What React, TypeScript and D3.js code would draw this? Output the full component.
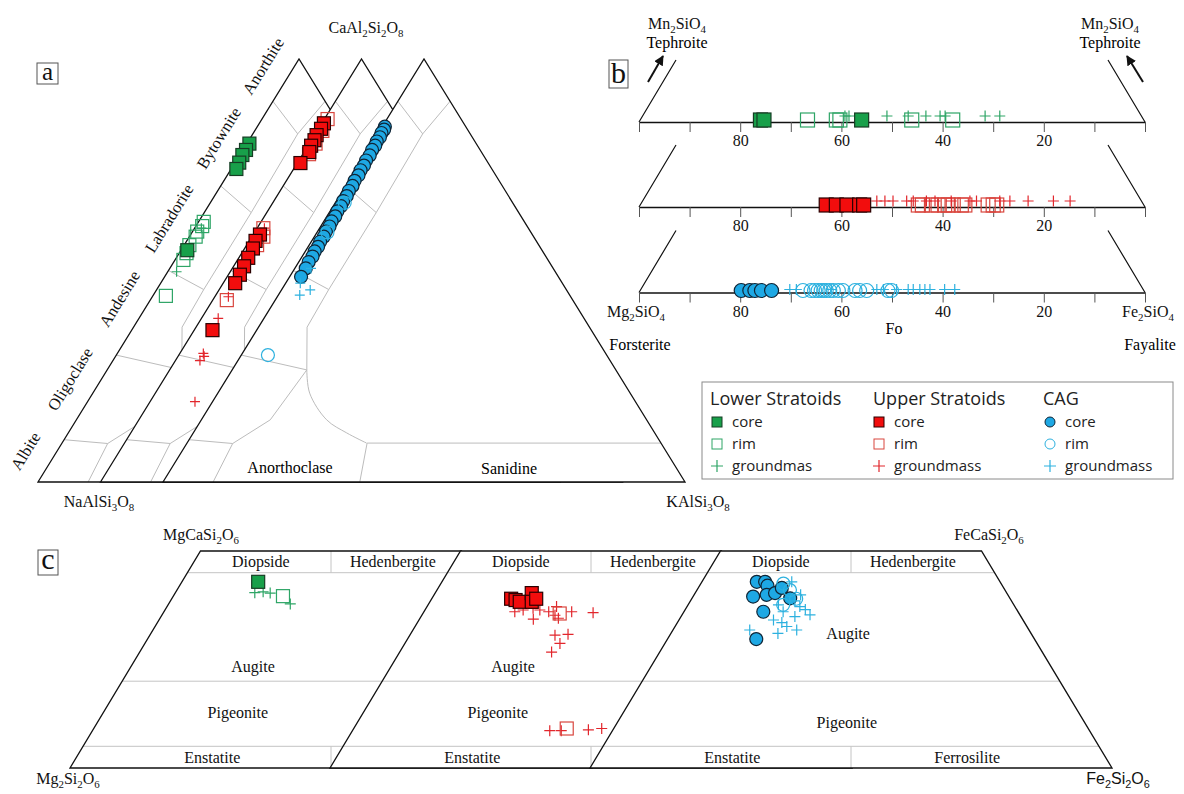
import React, { useEffect, useRef } from 'react'
import * as d3 from 'd3'

// ---------- panel a : feldspar, [An, Or] fractions ----------
const lowerCoreFsp = [[0.80, 0.005], [0.785, 0.006], [0.773, 0.005], [0.755, 0.008], [0.74, 0.01], [0.548, 0.012]]
const lowerRimFsp = [[0.615, 0.01], [0.605, 0.012], [0.592, 0.009], [0.58, 0.012], [0.56, 0.01], [0.541, 0.014], [0.525, 0.016], [0.44, 0.025]]
const lowerGmFsp = [[0.6, 0.013], [0.497, 0.017]]
const upperCoreFsp = [[0.848, 0.004], [0.835, 0.005], [0.82, 0.004], [0.808, 0.006], [0.795, 0.006], [0.78, 0.01], [0.754, 0.006],
  [0.585, 0.013], [0.57, 0.012], [0.552, 0.016], [0.53, 0.018], [0.51, 0.02], [0.49, 0.022], [0.47, 0.023], [0.359, 0.035]]
const upperRimFsp = [[0.858, 0.006], [0.83, 0.01], [0.80, 0.012], [0.775, 0.012], [0.6, 0.012], [0.58, 0.022], [0.56, 0.02], [0.43, 0.027]]
const upperGmFsp = [[0.6, 0.014], [0.438, 0.026], [0.387, 0.032], [0.304, 0.045], [0.297, 0.05], [0.287, 0.047], [0.19, 0.086]]
const cagCoreFsp = [[0.84, 0.005], [0.833, 0.007], [0.825, 0.006], [0.815, 0.008], [0.805, 0.007], [0.795, 0.009], [0.785, 0.008],
  [0.772, 0.01], [0.76, 0.009], [0.748, 0.011], [0.737, 0.01], [0.725, 0.012], [0.712, 0.011], [0.70, 0.013], [0.688, 0.012],
  [0.676, 0.014], [0.664, 0.013], [0.652, 0.015], [0.64, 0.014], [0.628, 0.016], [0.616, 0.015], [0.604, 0.017], [0.592, 0.016],
  [0.58, 0.018], [0.568, 0.017], [0.556, 0.019], [0.545, 0.018], [0.533, 0.02], [0.52, 0.019], [0.505, 0.021], [0.485, 0.022]]
const cagRimFsp = [[0.66, 0.018], [0.59, 0.02], [0.3, 0.051]]
const cagGmFsp = [[0.505, 0.031], [0.47, 0.028], [0.454, 0.055], [0.442, 0.041]]

// feldspar field boundaries [An, Or]
const fspFields = [
  [[0.9, 0], [0.823, 0.086]],
  [[0.9, 0.1], [0.823, 0.086]],
  [[0.823, 0.086], [0.637, 0.09], [0.455, 0.09], [0.366, 0.093], [0.265, 0.143]],
  [[0.7, 0], [0.637, 0.09]],
  [[0.5, 0], [0.455, 0.09]],
  [[0.3, 0], [0.265, 0.143]],
  [[0.265, 0.143], [0.147, 0.132], [0.091, 0.088], [0, 0.096]],
  [[0.1, 0], [0.091, 0.088]],
  [[0.092, 0.345], [0.092, 0.908]],
  [[0.092, 0.345], [0, 0.377]],
]
const fspCurve = [[0.265, 0.143], [0.21, 0.176], [0.147, 0.24], [0.116, 0.294], [0.092, 0.344]]
const plagNames = ['Albite', 'Oligoclase', 'Andesine', 'Labradorite', 'Bytownite', 'Anorthite']
const plagAt = [0.04, 0.21, 0.40, 0.59, 0.78, 0.95]

// ---------- panel b : olivine Fo ----------
const lowerCoreOl = [76, 75.3, 56]
const lowerRimOl = [66.7, 61, 60.3, 46.1, 38]
const lowerGmOl = [59.3, 58.5, 51, 46.8, 43.3, 40.5, 39.5, 31.6, 28.7]
const upperCoreOl = [63, 61, 58.9, 56.4, 55.6]
const upperRimOl = [44.8, 44, 42.2, 40.9, 39.6, 38.9, 37.9, 36.3, 35.6, 31, 30, 29.3]
const upperGmOl = [53, 51.4, 49.8, 47.1, 45.8, 43.2, 41.5, 38.3, 34.6, 33.3, 28.7, 26.7, 23.1, 18.1, 14.8]
const cagCoreOl = [79.8, 78.1, 77.1, 75.8, 73.8]
const cagRimOl = [67.6, 66, 65.3, 64.6, 64, 63.5, 63, 62.3, 61.6, 60.6, 59.7, 57.3, 56.4, 55, 50.8, 50.1]
const cagGmOl = [70.2, 68.9, 62, 53, 51.7, 49.1, 46.8, 45.8, 44.5, 43.5, 42.5, 39.6, 37.6]
const foTicks = [100, 90, 80, 70, 60, 50, 40, 30, 20, 10, 0]
const foLabels = [80, 60, 40, 20]

// ---------- panel c : pyroxene, [Wo, Fs] fractions ----------
const lowerCorePx = [[0.429, 0.146]]
const lowerRimPx = [[0.396, 0.21]]
const lowerGmPx = [[0.404, 0.152], [0.406, 0.167], [0.403, 0.182], [0.378, 0.233]]
const upperCorePx = [[0.39, 0.152], [0.387, 0.162], [0.383, 0.172], [0.403, 0.185], [0.383, 0.195], [0.39, 0.2]]
const upperRimPx = [[0.356, 0.262], [0.091, 0.408]]
const upperGmPx = [[0.36, 0.174], [0.364, 0.188], [0.343, 0.218], [0.364, 0.22], [0.36, 0.239], [0.372, 0.248], [0.345, 0.265],
  [0.36, 0.283], [0.358, 0.325], [0.306, 0.278], [0.308, 0.302], [0.287, 0.297], [0.267, 0.291], [0.086, 0.378], [0.086, 0.4],
  [0.088, 0.451], [0.091, 0.475], [0.368, 0.205], [0.352, 0.255]]
const cagCorePx = [[0.429, 0.105], [0.429, 0.121], [0.42, 0.13], [0.395, 0.115], [0.399, 0.139], [0.403, 0.153], [0.391, 0.188],
  [0.36, 0.152], [0.297, 0.17], [0.415, 0.16]]
const cagRimPx = [[0.425, 0.158], [0.41, 0.178], [0.376, 0.182], [0.39, 0.2]]
const cagGmPx = [[0.429, 0.172], [0.399, 0.204], [0.376, 0.173], [0.36, 0.19], [0.372, 0.216], [0.353, 0.245], [0.349, 0.218],
  [0.341, 0.181], [0.326, 0.214], [0.318, 0.237], [0.31, 0.205], [0.318, 0.147], [0.385, 0.2], [0.365, 0.23], [0.335, 0.2]]

const pxFields = [
  [[0.45, 0], [0.45, 0.55]],
  [[0.2, 0], [0.2, 0.8]],
  [[0.05, 0], [0.05, 0.95]],
  [[0.5, 0.25], [0.45, 0.275]],
  [[0, 0.5], [0.05, 0.475]],
]
// label positions [Wo, Fs]; first two quads share one set
const pxLabelsSide = [['Diopside', 0.475, 0.128], ['Hedenbergite', 0.475, 0.381], ['Augite', 0.235, 0.233], ['Pigeonite', 0.129, 0.257], ['Enstatite', 0.025, 0.26]]
const pxLabelsMain = [['Diopside', 0.475, 0.128], ['Hedenbergite', 0.475, 0.381], ['Augite', 0.309, 0.34], ['Pigeonite', 0.104, 0.44], ['Enstatite', 0.025, 0.26], ['Ferrosilite', 0.025, 0.71]]

const groups = ['Lower Stratoids', 'Upper Stratoids', 'CAG']
const legendItems = [['core', 'rim', 'groundmas'], ['core', 'rim', 'groundmass'], ['core', 'rim', 'groundmass']]

const SERIF = '"Liberation Serif", "Times New Roman", serif'
const SANS = '"Open Sans", "Noto Sans", sans-serif'

const colors = {
  lower: { fill: '#18a04a', stroke: '#163d24', open: '#2ea566' },
  upper: { fill: '#f20d0d', stroke: '#2a0000', open: '#d9473f', plus: '#e2262c' },
  cag: { fill: '#1ea8e4', stroke: '#0f2536', open: '#2db1df' },
}

export default function App() {
  const ref = useRef<SVGSVGElement>(null)

  useEffect(() => {
    const svg = d3.select(ref.current)
    svg.selectAll('*').remove()

    // formula text with subscripts
    const formula = (g, str, x, y, size, family = SERIF) => {
      const t = g.append('text').attr('x', x).attr('y', y).attr('font-size', size)
        .attr('font-family', family).attr('text-anchor', 'middle').attr('fill', '#111')
      let low = false
      str.match(/\d+|\D+/g).forEach(part => {
        const ts = t.append('tspan').text(part)
        if (/^\d+$/.test(part)) {
          ts.attr('font-size', size * 0.68)
          if (!low) ts.attr('dy', size * 0.28)
          low = true
        } else if (low) {
          ts.attr('dy', -size * 0.28)
          low = false
        }
      })
    }

    const letterBox = (x, y, w, h, ch, size, base) => {
      svg.append('rect').attr('x', x).attr('y', y).attr('width', w).attr('height', h)
        .attr('fill', 'none').attr('stroke', '#555').attr('stroke-width', 1)
      svg.append('text').attr('x', x + w / 2).attr('y', base).attr('text-anchor', 'middle')
        .attr('font-family', SERIF).attr('font-size', size).attr('fill', '#111').text(ch)
    }

    // marker helpers
    const squares = (g, pts, xy, size, fill, stroke, sw = 1.2) => {
      g.selectAll(null).data(pts).join('rect')
        .attr('x', d => xy(d)[0] - size / 2).attr('y', d => xy(d)[1] - size / 2)
        .attr('width', size).attr('height', size)
        .attr('fill', fill).attr('stroke', stroke).attr('stroke-width', sw)
    }
    const circles = (g, pts, xy, r, fill, stroke, sw = 1.2) => {
      g.selectAll(null).data(pts).join('circle')
        .attr('cx', d => xy(d)[0]).attr('cy', d => xy(d)[1]).attr('r', r)
        .attr('fill', fill).attr('stroke', stroke).attr('stroke-width', sw)
    }
    const pluses = (g, pts, xy, arm, stroke) => {
      g.selectAll(null).data(pts).join('path')
        .attr('d', d => { const [x, y] = xy(d); return `M${x - arm},${y}h${arm * 2}M${x},${y - arm}v${arm * 2}` })
        .attr('stroke', stroke).attr('stroke-width', 1.2).attr('fill', 'none')
    }

    // ================= panel a =================
    const fspY = d3.scaleLinear().domain([0, 1]).range([482, 59])
    const fspX = d3.scaleLinear().domain([0, 1]).range([0, 522])
    const fspLeft = [38, 100.5, 163]
    const fspPt = i => ([an, or]) => [fspLeft[i] + fspX(or + an / 2), fspY(an)]
    const fspLine = i => d3.line().x(d => fspPt(i)(d)[0]).y(d => fspPt(i)(d)[1])
    const fspData = [
      [lowerCoreFsp, lowerRimFsp, lowerGmFsp, colors.lower, 'sq'],
      [upperCoreFsp, upperRimFsp, upperGmFsp, colors.upper, 'sq'],
      [cagCoreFsp, cagRimFsp, cagGmFsp, colors.cag, 'ci'],
    ]

    const ga = svg.append('g')
    fspLeft.forEach((l, i) => {
      const g = ga.append('g')
      const corners = [[0, 0], [1, 0], [0, 1]].map(fspPt(i))
      g.append('polygon').attr('points', corners.join(' ')).attr('fill', '#fff').attr('stroke', 'none')
      fspFields.forEach(f => g.append('path').attr('d', fspLine(i)(f)).attr('fill', 'none').attr('stroke', '#bcbcbc').attr('stroke-width', 1))
      g.append('path').attr('d', fspLine(i).curve(d3.curveCatmullRom)(fspCurve)).attr('fill', 'none').attr('stroke', '#bcbcbc').attr('stroke-width', 1)
      g.append('polygon').attr('points', corners.join(' ')).attr('fill', 'none').attr('stroke', '#111').attr('stroke-width', 1.3)

      const [core, rim, gm, c, shape] = fspData[i]
      const xy = fspPt(i)
      if (shape === 'sq') {
        squares(g, rim, xy, 13, 'none', c.open)
        pluses(g, gm, xy, 5, c.plus || c.open)
        squares(g, core, xy, 13, c.fill, c.stroke)
      } else {
        circles(g, core, xy, 6.5, c.fill, c.stroke)
        circles(g, rim, xy, 6.5, 'none', c.open)
        pluses(g, gm, xy, 5, c.open)
      }
    })

    // plagioclase names along the Ab-An edge of the first triangle
    const edgeAng = Math.atan2(-423, 261) * 180 / Math.PI
    plagNames.forEach((name, k) => {
      const [ex, ey] = fspPt(0)([plagAt[k], 0])
      const x = ex - 0.851 * 27, y = ey - 0.525 * 27
      ga.append('text').attr('transform', `translate(${x},${y}) rotate(${edgeAng})`)
        .attr('text-anchor', 'middle').attr('dy', '0.35em').attr('font-family', SERIF).attr('font-size', 16.5)
        .attr('fill', '#111').text(name)
    })
    ga.append('text').attr('x', 290).attr('y', 473).attr('text-anchor', 'middle').attr('font-family', SERIF).attr('font-size', 16).text('Anorthoclase')
    ga.append('text').attr('x', 509).attr('y', 474).attr('text-anchor', 'middle').attr('font-family', SERIF).attr('font-size', 16).text('Sanidine')
    formula(ga, 'CaAl2Si2O8', 366, 33, 16)
    formula(ga, 'NaAlSi3O8', 99, 507, 16)
    formula(ga, 'KAlSi3O8', 698, 507, 16)
    letterBox(37, 63, 21, 21, 'a', 25, 80)

    // ================= panel b =================
    const foX = d3.scaleLinear().domain([100, 0]).range([639, 1145])
    const rowY = [122, 207, 292.5]
    const olData = [
      [lowerCoreOl, lowerRimOl, lowerGmOl, colors.lower, 'sq'],
      [upperCoreOl, upperRimOl, upperGmOl, colors.upper, 'sq'],
      [cagCoreOl, cagRimOl, cagGmOl, colors.cag, 'ci'],
    ]
    const foAxis = d3.axisBottom(foX).tickValues(foTicks).tickSize(10).tickSizeOuter(0)
      .tickFormat(d => (foLabels.includes(d) ? d : ''))

    const gb = svg.append('g')
    rowY.forEach((y, i) => {
      const g = gb.append('g')
      // slanted sides
      g.append('path').attr('d', `M${foX(100)},${y}L${foX(100) + 37},${y - 62}M${foX(0)},${y}L${foX(0) - 37},${y - 62}`)
        .attr('stroke', '#111').attr('stroke-width', 1.2).attr('fill', 'none')
      const ax = g.append('g').attr('transform', `translate(0,${y})`).call(foAxis)
      ax.select('.domain').attr('stroke', '#111').attr('stroke-width', 1.3)
      ax.selectAll('.tick line').attr('stroke', '#555').attr('stroke-width', 1)
      ax.selectAll('.tick text').attr('font-family', SERIF).attr('font-size', 16).attr('fill', '#111')

      const [core, rim, gm, c, shape] = olData[i]
      if (shape === 'sq') {
        squares(g, rim, d => [foX(d), y - 2], 14, 'none', c.open)
        pluses(g, gm, d => [foX(d), y - 6], 5.5, c.plus || c.open)
        squares(g, core, d => [foX(d), y - 2], 14, c.fill, c.stroke)
      } else {
        pluses(g, gm, d => [foX(d), y - 3], 5.5, c.open)
        circles(g, rim, d => [foX(d), y - 2], 7, 'none', c.open)
        circles(g, core, d => [foX(d), y - 2], 7, c.fill, c.stroke)
      }
    })
    // end members and arrows
    formula(gb, 'Mn2SiO4', 677, 29, 16)
    gb.append('text').attr('x', 677).attr('y', 48).attr('text-anchor', 'middle').attr('font-family', SERIF).attr('font-size', 16).text('Tephroite')
    formula(gb, 'Mn2SiO4', 1110, 29, 16)
    gb.append('text').attr('x', 1110).attr('y', 48).attr('text-anchor', 'middle').attr('font-family', SERIF).attr('font-size', 16).text('Tephroite')
    const defs = svg.append('defs')
    defs.append('marker').attr('id', 'arr').attr('viewBox', '0 0 10 10').attr('refX', 9).attr('refY', 5)
      .attr('markerWidth', 5).attr('markerHeight', 5).attr('orient', 'auto')
      .append('path').attr('d', 'M0,0L10,5L0,10z').attr('fill', '#111')
    gb.append('line').attr('x1', 648).attr('y1', 82).attr('x2', 663).attr('y2', 56).attr('stroke', '#111').attr('stroke-width', 2).attr('marker-end', 'url(#arr)')
    gb.append('line').attr('x1', 1143).attr('y1', 82).attr('x2', 1127).attr('y2', 56).attr('stroke', '#111').attr('stroke-width', 2).attr('marker-end', 'url(#arr)')
    formula(gb, 'Mg2SiO4', 636, 317, 16)
    gb.append('text').attr('x', 640).attr('y', 350).attr('text-anchor', 'middle').attr('font-family', SERIF).attr('font-size', 16).text('Forsterite')
    gb.append('text').attr('x', 894).attr('y', 334).attr('text-anchor', 'middle').attr('font-family', SERIF).attr('font-size', 16).text('Fo')
    formula(gb, 'Fe2SiO4', 1148, 317, 16)
    gb.append('text').attr('x', 1150).attr('y', 350).attr('text-anchor', 'middle').attr('font-family', SERIF).attr('font-size', 16).text('Fayalite')
    letterBox(609, 60, 19, 28, 'b', 30, 83)

    // legend
    const lg = svg.append('g')
    lg.append('rect').attr('x', 702).attr('y', 382).attr('width', 471).attr('height', 97)
      .attr('fill', '#fff').attr('stroke', '#8a8a8a').attr('stroke-width', 1)
    const legX = [710, 873, 1043]
    const legSym = [717, 879, 1050]
    const legRowY = [422, 444, 466]
    const legCol = [colors.lower, colors.upper, colors.cag]
    groups.forEach((name, i) => {
      lg.append('text').attr('x', legX[i]).attr('y', 405).attr('font-family', SANS).attr('font-size', 18).attr('fill', '#222').text(name)
      const c = legCol[i]
      const at = k => () => [legSym[i], legRowY[k]]
      if (i < 2) {
        squares(lg, [0], at(0), 10, c.fill, c.stroke, 1)
        squares(lg, [0], at(1), 10, 'none', c.open, 1)
      } else {
        circles(lg, [0], at(0), 5, c.fill, c.stroke, 1)
        circles(lg, [0], at(1), 5, 'none', c.open, 1)
      }
      pluses(lg, [0], at(2), 6, c.plus || c.open)
      legendItems[i].forEach((t, k) => {
        lg.append('text').attr('x', legSym[i] + 15).attr('y', legRowY[k] + 5).attr('font-family', SANS)
          .attr('font-size', 15).attr('fill', '#222').text(t)
      })
    })

    // ================= panel c =================
    const pxY = d3.scaleLinear().domain([0, 0.5]).range([768, 551])
    const pxX = d3.scaleLinear().domain([0, 1]).range([0, 522])
    const pxLeft = [70, 330, 590]
    const pxPt = i => ([wo, fs]) => [pxLeft[i] + pxX(fs + wo / 2), pxY(wo)]
    const pxLine = i => d3.line().x(d => pxPt(i)(d)[0]).y(d => pxPt(i)(d)[1])
    const pxData = [
      [lowerCorePx, lowerRimPx, lowerGmPx, colors.lower, 'sq'],
      [upperCorePx, upperRimPx, upperGmPx, colors.upper, 'sq'],
      [cagCorePx, cagRimPx, cagGmPx, colors.cag, 'ci'],
    ]

    const gc = svg.append('g')
    pxLeft.forEach((l, i) => {
      const g = gc.append('g')
      const corners = [[0, 0], [0.5, 0], [0.5, 0.5], [0, 1]].map(pxPt(i))
      g.append('polygon').attr('points', corners.join(' ')).attr('fill', '#fff').attr('stroke', 'none')
      pxFields.forEach(f => g.append('path').attr('d', pxLine(i)(f)).attr('fill', 'none').attr('stroke', '#c4c4c4').attr('stroke-width', 1))
      g.append('polygon').attr('points', corners.join(' ')).attr('fill', 'none').attr('stroke', '#111').attr('stroke-width', 1.3)
      const labels = i < 2 ? pxLabelsSide : pxLabelsMain
      labels.forEach(([name, wo, fs]) => {
        const [x, y] = pxPt(i)([wo, fs])
        g.append('text').attr('x', x).attr('y', y).attr('dy', '0.35em').attr('text-anchor', 'middle')
          .attr('font-family', SERIF).attr('font-size', 16).attr('fill', '#111').text(name)
      })
      const [core, rim, gm, c, shape] = pxData[i]
      const xy = pxPt(i)
      if (shape === 'sq') {
        pluses(g, gm, xy, 5.5, c.plus || c.open)
        squares(g, rim, xy, 13, 'none', c.open)
        squares(g, core, xy, 13, c.fill, c.stroke)
      } else {
        circles(g, core, xy, 6.5, c.fill, c.stroke)
        circles(g, rim, xy, 6.5, 'none', c.open)
        pluses(g, gm, xy, 5.5, c.open)
      }
    })
    formula(gc, 'MgCaSi2O6', 201, 540, 16)
    formula(gc, 'FeCaSi2O6', 989, 540, 16)
    formula(gc, 'Mg2Si2O6', 68, 784, 16)
    formula(gc, 'Fe2Si2O6', 1118, 784, 16, '"Liberation Sans", Arial, sans-serif')
    letterBox(38, 550, 20, 25, 'c', 30, 569)
  }, [])

  return (
    <svg ref={ref} width={1184} height={794}
      style={{ position: 'absolute', left: 0, top: 0, background: '#fff', display: 'block' }} />
  )
}
